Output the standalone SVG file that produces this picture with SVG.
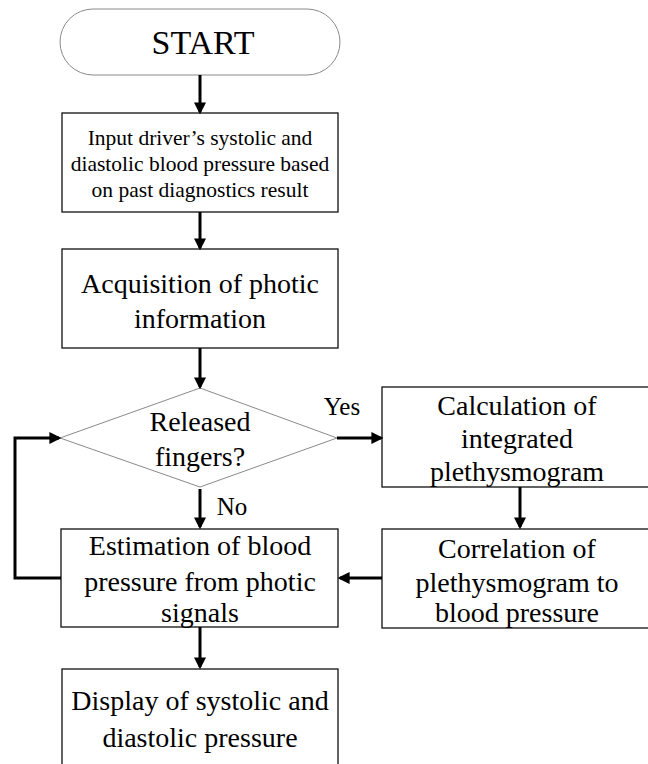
<svg xmlns="http://www.w3.org/2000/svg" width="648" height="764" viewBox="0 0 648 764">
<style>
text{font-family:"Liberation Serif","Times New Roman",serif;fill:#000;text-anchor:middle}
.box{fill:#fff;stroke:#222;stroke-width:1.4}
.thin{fill:#fff;stroke:#8a8a8a;stroke-width:1}
.conn{fill:none;stroke:#000;stroke-width:3}
.t28{font-size:28px}
.t21{font-size:21.5px}
</style>
<defs>
<marker id="ah" markerWidth="4" markerHeight="4" refX="3.2" refY="2" orient="auto" markerUnits="strokeWidth">
<path d="M0,0 L4,2 L0,4 Z" fill="#000"/>
</marker>
</defs>
<g id="start">
<rect class="thin" x="60" y="9" width="280" height="66" rx="33" ry="33"/>
<text x="203" y="54" style="font-size:34px">START</text>
</g>
<g id="input">
<rect class="box" x="62" y="113" width="276" height="99"/>
<text class="t21" x="200" y="145">Input driver’s systolic and</text>
<text class="t21" x="200" y="171">diastolic blood pressure based</text>
<text class="t21" x="200" y="197">on past diagnostics result</text>
</g>
<g id="acquisition">
<rect class="box" x="62" y="249" width="276" height="99"/>
<text class="t28" x="200" y="293">Acquisition of photic</text>
<text class="t28" x="200" y="328">information</text>
</g>
<g id="decision">
<polygon class="thin" points="200,388 337,438 200,487 60,438"/>
<text class="t28" x="200" y="431">Released</text>
<text class="t28" x="200" y="466">fingers?</text>
</g>
<g id="calculation">
<rect class="box" x="382" y="387" width="270" height="100"/>
<text class="t28" x="517" y="415">Calculation of</text>
<text class="t28" x="517" y="448">integrated</text>
<text class="t28" x="517" y="481">plethysmogram</text>
</g>
<g id="correlation">
<rect class="box" x="382" y="529" width="270" height="99"/>
<text class="t28" x="517" y="558">Correlation of</text>
<text class="t28" x="517" y="592">plethysmogram to</text>
<text class="t28" x="517" y="622">blood pressure</text>
</g>
<g id="estimation">
<rect class="box" x="61" y="529" width="277" height="98"/>
<text class="t28" x="200" y="555">Estimation of blood</text>
<text class="t28" x="200" y="591">pressure from photic</text>
<text class="t28" x="200" y="622">signals</text>
</g>
<g id="display">
<rect class="box" x="62" y="669" width="276" height="110"/>
<text class="t28" x="200" y="710">Display of systolic and</text>
<text class="t28" x="200" y="747">diastolic pressure</text>
</g>
<g id="connectors">
<line class="conn" x1="200" y1="75" x2="200" y2="112" marker-end="url(#ah)"/>
<line class="conn" x1="200" y1="212" x2="200" y2="248" marker-end="url(#ah)"/>
<line class="conn" x1="200" y1="348" x2="200" y2="387" marker-end="url(#ah)"/>
<line class="conn" x1="337" y1="438" x2="381" y2="438" marker-end="url(#ah)"/>
<line class="conn" x1="520" y1="487" x2="520" y2="527" marker-end="url(#ah)"/>
<line class="conn" x1="382" y1="578" x2="340" y2="578" marker-end="url(#ah)"/>
<line class="conn" x1="200" y1="489" x2="200" y2="527" marker-end="url(#ah)"/>
<line class="conn" x1="200" y1="627" x2="200" y2="667" marker-end="url(#ah)"/>
<polyline class="conn" points="61,578 15,578 15,438 59,438" marker-end="url(#ah)"/>
<text class="t21" x="342" y="415" style="font-size:25px">Yes</text>
<text class="t21" x="232" y="515" style="font-size:25px">No</text>
</g>
</svg>
